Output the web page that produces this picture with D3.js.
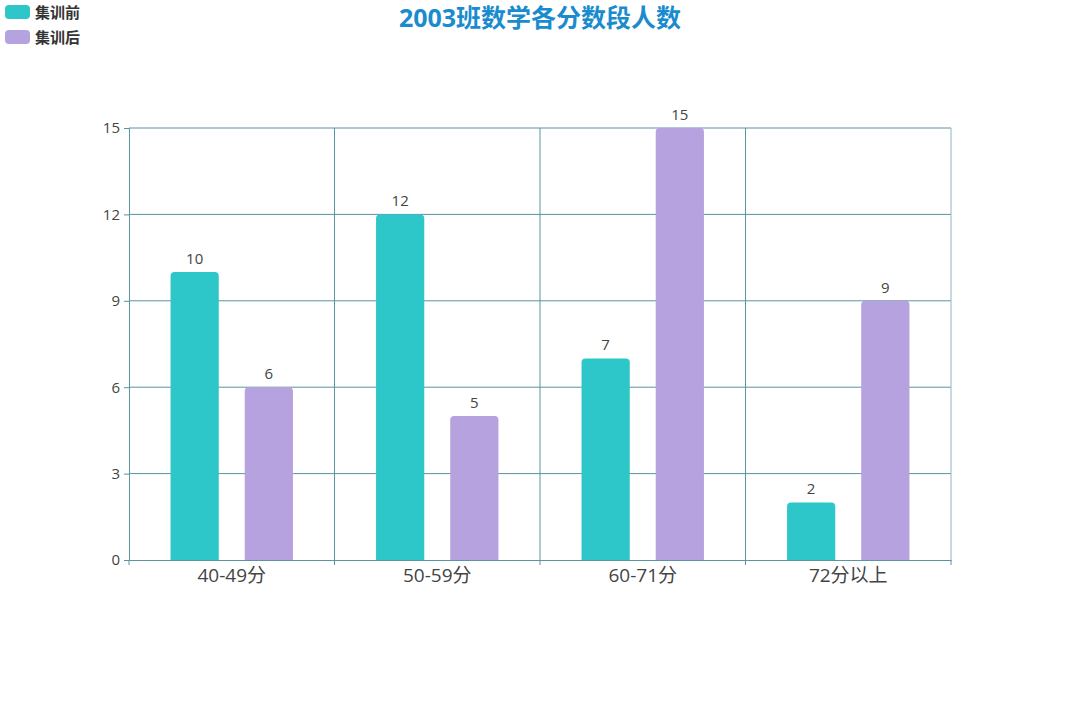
<!DOCTYPE html>
<html>
<head>
<meta charset="utf-8">
<script src="https://cdn.jsdelivr.net/npm/d3@7"></script>
<style>
  body { margin: 0; background: #fff; }
  text { font-family: "Open Sans", "Noto Sans CJK SC", sans-serif; }
</style>
</head>
<body>
<script>
// data
var categories = ["40-49分", "50-59分", "60-71分", "72分以上"];
var seriesNames = ["集训前", "集训后"];
var before = [10, 12, 7, 2];
var after = [6, 5, 15, 9];
var yTicks = [0, 3, 6, 9, 12, 15];

var w = 1080, h = 716;
var plotLeft = 129, plotRight = 951, plotTop = 128, plotBottom = 560;
var colors = ["#2ec7c9", "#b6a2de"];
var lineColor = "#5a93a2";

var svg = d3.select("body").append("svg")
  .attr("width", w).attr("height", h);

var xScale = d3.scaleBand().domain(categories).range([plotLeft, plotRight]);
var yScale = d3.scaleLinear().domain([0, 15]).range([plotBottom, plotTop]);

// inner band for bars
var inner = d3.scaleBand().domain(seriesNames)
  .range([0, xScale.bandwidth()])
  .paddingInner(0.35).paddingOuter(0.56);

// grid lines horizontal
svg.append("g").selectAll("line")
  .data(yTicks.filter(function(d) { return d > 0; }))
  .enter().append("line")
  .attr("x1", plotLeft).attr("x2", plotRight)
  .attr("y1", function(d) { return yScale(d); })
  .attr("y2", function(d) { return yScale(d); })
  .attr("stroke", lineColor).attr("stroke-width", 1);

// vertical grid lines at category boundaries
var bounds = categories.map(function(c) { return xScale(c); }).concat([plotRight]);
svg.append("g").selectAll("line")
  .data(bounds.slice(1))
  .enter().append("line")
  .attr("x1", function(d) { return d; }).attr("x2", function(d) { return d; })
  .attr("y1", plotTop).attr("y2", plotBottom)
  .attr("stroke", function(d, i) { return i == bounds.length - 2 ? "#8fb5bd" : lineColor; })
  .attr("stroke-width", 1);

// bars
var rows = [before, after];
rows.forEach(function(vals, s) {
  svg.append("g").selectAll("path")
    .data(vals)
    .enter().append("path")
    .attr("d", function(d, i) {
      var x = xScale(categories[i]) + inner(seriesNames[s]);
      var bw = inner.bandwidth();
      var y = yScale(d), r = 4;
      return "M" + x + "," + plotBottom +
        "L" + x + "," + (y + r) +
        "Q" + x + "," + y + " " + (x + r) + "," + y +
        "L" + (x + bw - r) + "," + y +
        "Q" + (x + bw) + "," + y + " " + (x + bw) + "," + (y + r) +
        "L" + (x + bw) + "," + plotBottom + "Z";
    })
    .attr("fill", colors[s]);

  svg.append("g").selectAll("text")
    .data(vals)
    .enter().append("text")
    .attr("x", function(d, i) { return xScale(categories[i]) + inner(seriesNames[s]) + inner.bandwidth() / 2; })
    .attr("y", function(d) { return yScale(d) - 8; })
    .attr("text-anchor", "middle")
    .attr("font-size", "15px")
    .attr("fill", "#444")
    .text(function(d) { return d; });
});

// y axis
var yAxis = d3.axisLeft(yScale).tickValues(yTicks).tickSize(5).tickPadding(4);
var gy = svg.append("g")
  .attr("transform", "translate(" + plotLeft + ",0)")
  .call(yAxis);
gy.select(".domain").attr("stroke", lineColor);
gy.selectAll(".tick line").attr("stroke", lineColor);
gy.selectAll("text").attr("font-size", "15px").attr("fill", "#444")
  .attr("font-family", "Open Sans, sans-serif");

// x axis
var xAxis = d3.axisBottom(xScale).tickSize(0).tickPadding(9);
var gx = svg.append("g")
  .attr("transform", "translate(0," + plotBottom + ")")
  .call(xAxis);
gx.select(".domain").attr("stroke", lineColor);
gx.selectAll("text").attr("font-size", "19px").attr("fill", "#444")
  .attr("font-family", "Open Sans, Noto Sans CJK SC, sans-serif");
gx.append("g").selectAll("line")
  .data(bounds)
  .enter().append("line")
  .attr("x1", function(d) { return d; }).attr("x2", function(d) { return d; })
  .attr("y1", 0).attr("y2", 5)
  .attr("stroke", lineColor);

// title
svg.append("text")
  .attr("x", 540).attr("y", 27)
  .attr("text-anchor", "middle")
  .attr("font-size", "25px")
  .attr("font-weight", "bold")
  .attr("fill", "#1a8ccd")
  .attr("font-family", "Open Sans, Noto Sans CJK SC, sans-serif")
  .text("2003班数学各分数段人数");

// legend
var legend = svg.append("g").selectAll("g")
  .data(seriesNames)
  .enter().append("g")
  .attr("transform", function(d, i) { return "translate(5," + (5 + i * 25) + ")"; });
legend.append("rect")
  .attr("width", 25).attr("height", 14).attr("rx", 4)
  .attr("fill", function(d, i) { return colors[i]; });
legend.append("text")
  .attr("x", 30).attr("y", 12.5)
  .attr("font-size", "15px").attr("font-weight", "bold")
  .attr("fill", "#333")
  .attr("font-family", "Noto Sans CJK SC, sans-serif")
  .text(function(d) { return d; });
</script>
</body>
</html>
